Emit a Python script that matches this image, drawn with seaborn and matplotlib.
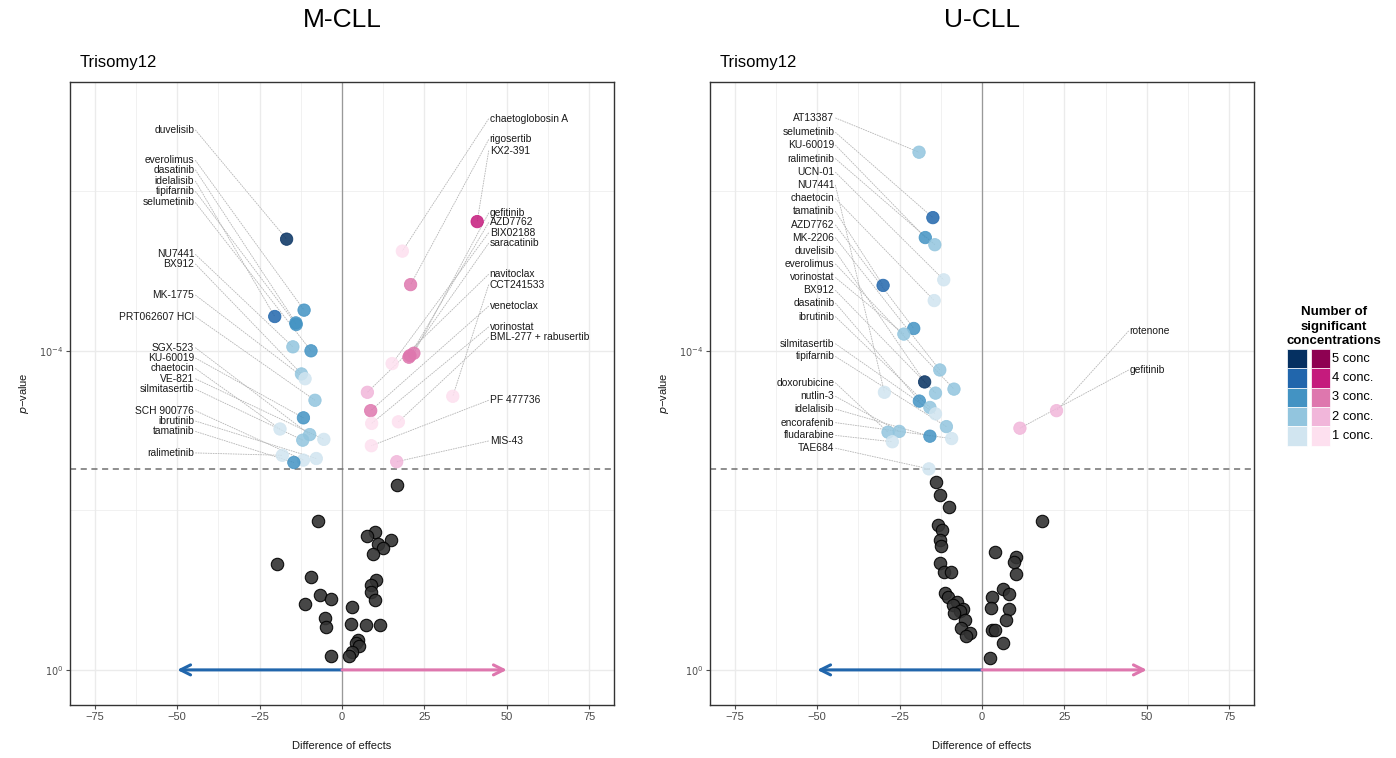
import numpy as np
import pandas as pd
import matplotlib
matplotlib.use("Agg")
import matplotlib.pyplot as plt
import seaborn as sns
from matplotlib.patches import Rectangle

# ---------------- data (y = -log10 p-value) ----------------
# M-CLL, significant drugs, negative side
mcll_neg_drugs = ["duvelisib", "everolimus", "dasatinib", "idelalisib", "tipifarnib", "selumetinib",
                  "NU7441", "BX912", "MK-1775", "PRT062607 HCl", "SGX-523", "KU-60019", "chaetocin",
                  "VE-821", "silmitasertib", "SCH 900776", "ibrutinib", "tamatinib", "ralimetinib"]
mcll_neg_x = [-16.8, -11.5, -14.0, -20.4, -13.9, -9.4, -14.9, -12.3, -11.2, -8.2, -9.8, -11.7, -18.8,
              -5.5, -11.9, -11.7, -7.8, -14.6, -18.1]
mcll_neg_y = [5.40, 4.51, 4.35, 4.43, 4.33, 4.00, 4.05, 3.71, 3.65, 3.38, 2.95, 3.16, 3.02,
              2.89, 2.88, 2.63, 2.65, 2.60, 2.69]
mcll_neg_n = [5, 3, 3, 4, 3, 3, 2, 2, 1, 2, 2, 3, 1, 1, 2, 1, 1, 3, 1]

# M-CLL, significant drugs, positive side
mcll_pos_drugs = ["chaetoglobosin A", "rigosertib", "KX2-391", "gefitinib", "AZD7762", "BIX02188",
                  "saracatinib", "navitoclax", "CCT241533", "venetoclax", "vorinostat",
                  "BML-277 + rabusertib", "PF 477736", "MIS-43"]
mcll_pos_x = [18.3, 20.8, 41.0, 21.8, 20.3, 15.2, 20.6, 7.7, 33.6, 8.7, 9.0, 17.1, 8.9, 16.6]
mcll_pos_y = [5.25, 4.83, 5.62, 3.97, 3.92, 3.84, 3.94, 3.48, 3.43, 3.25, 3.09, 3.11, 2.81, 2.61]
mcll_pos_n = [1, 3, 4, 3, 3, 1, 3, 2, 1, 3, 1, 1, 1, 2]

# M-CLL, non-significant drugs
mcll_ns_x = [16.8, -7.3, 10.0, 7.7, 14.9, 11.0, 12.3, 9.5, -19.8, -9.4, 10.4, 8.7, 8.7, -6.6, -3.4,
             10.0, -11.1, 2.9, -5.3, -4.8, 2.6, 7.3, 11.6, 4.9, 4.1, 5.2, 2.9, 2.2, -3.3]
mcll_ns_y = [2.32, 1.87, 1.73, 1.68, 1.63, 1.58, 1.53, 1.45, 1.33, 1.17, 1.13, 1.06, 0.98, 0.94, 0.89,
             0.88, 0.83, 0.79, 0.65, 0.54, 0.58, 0.56, 0.56, 0.38, 0.34, 0.30, 0.22, 0.17, 0.17]

# U-CLL, significant drugs, negative side
ucll_neg_drugs = ["AT13387", "selumetinib", "KU-60019", "ralimetinib", "UCN-01", "NU7441", "chaetocin",
                  "tamatinib", "AZD7762", "MK-2206", "duvelisib", "everolimus", "vorinostat", "BX912",
                  "dasatinib", "ibrutinib", "silmitasertib", "tipifarnib", "doxorubicine", "nutlin-3",
                  "idelalisib", "encorafenib", "fludarabine", "TAE684"]
ucll_neg_x = [-19.1, -14.9, -17.2, -14.3, -11.6, -29.6, -14.5, -30.0, -20.7, -12.8, -17.4, -8.5, -23.7,
              -14.1, -19.0, -15.8, -14.1, -10.8, -28.5, -25.1, -15.8, -9.2, -27.2, -16.1]
ucll_neg_y = [6.49, 5.67, 5.42, 5.33, 4.89, 3.48, 4.63, 4.82, 4.28, 3.76, 3.61, 3.52, 4.21,
              3.47, 3.37, 3.29, 3.21, 3.05, 2.98, 2.99, 2.93, 2.90, 2.86, 2.52]
ucll_neg_n = [2, 4, 3, 2, 1, 1, 1, 4, 3, 2, 5, 2, 2, 2, 3, 2, 1, 2, 2, 2, 3, 1, 1, 1]

# U-CLL, significant drugs, positive side
ucll_pos_drugs = ["rotenone", "gefitinib"]
ucll_pos_x = [22.6, 11.5]
ucll_pos_y = [3.25, 3.03]
ucll_pos_n = [2, 2]

# U-CLL, non-significant drugs
ucll_ns_x = [-14.0, -12.7, -10.0, 18.2, -13.4, -12.0, -12.7, -12.5, 3.9, 10.3, 9.7, -12.8, -11.5, -9.3,
             10.3, 6.4, -11.2, 8.1, -10.2, 3.1, -7.5, -8.7, -5.9, 2.8, 8.2, -6.8, -8.4, -5.2, 7.4,
             -6.4, 2.9, 3.8, -3.5, -4.8, 6.3, 2.3]
ucll_ns_y = [2.36, 2.19, 2.04, 1.87, 1.82, 1.75, 1.63, 1.55, 1.48, 1.42, 1.35, 1.34, 1.23, 1.23,
             1.20, 1.02, 0.97, 0.95, 0.91, 0.91, 0.85, 0.81, 0.76, 0.77, 0.76, 0.74, 0.71, 0.62, 0.62,
             0.52, 0.50, 0.50, 0.46, 0.43, 0.34, 0.15]

threshold_y = 2.52
conc_levels = [5, 4, 3, 2, 1]
conc_labels = ["5 conc", "4 conc.", "3 conc.", "2 conc.", "1 conc."]
blues = ["#053061", "#2166AC", "#4393C3", "#92C5DE", "#D1E5F0"]
pinks = ["#8E0152", "#C51B7D", "#DE77AE", "#F1B6DA", "#FDE0EF"]

# ---------------- layout (label positions) ----------------
mcll_neg_label_y = [6.77, 6.39, 6.27, 6.13, 6.00, 5.86, 5.21, 5.09, 4.70, 4.43, 4.04, 3.91, 3.78,
                    3.65, 3.52, 3.25, 3.12, 2.99, 2.72]
mcll_pos_label_y = [6.91, 6.65, 6.51, 5.73, 5.61, 5.48, 5.35, 4.96, 4.83, 4.56, 4.30, 4.17, 3.38, 2.87]
ucll_neg_label_y = [6.92, 6.74, 6.58, 6.41, 6.24, 6.08, 5.91, 5.75, 5.58, 5.42, 5.25, 5.09, 4.92,
                    4.76, 4.60, 4.43, 4.09, 3.93, 3.60, 3.43, 3.27, 3.10, 2.94, 2.78]
ucll_pos_label_y = [4.25, 3.76]

sns.set_theme(style="white")
plt.rcParams["font.family"] = ["Liberation Sans", "DejaVu Sans"]

W, H = 1396, 758
fig = plt.figure(figsize=(W / 100, H / 100), dpi=100)


def fx(px):
    return px / W


def fy(py):
    return 1 - py / H


ax_l = fig.add_axes([fx(70), fy(705), (614 - 70) / W, (705 - 82) / H])
ax_r = fig.add_axes([fx(710), fy(705), (1254 - 710) / W, (705 - 82) / H])

blue_pal = {c: b for c, b in zip(conc_levels, blues)}
pink_pal = {c: p for c, p in zip(conc_levels, pinks)}


def draw_panel(ax, neg, pos, ns, neg_lab_y, pos_lab_y):
    ax.set_xlim(-82.5, 82.5)
    ax.set_ylim(-0.44, 7.37)
    # grid
    for gx in np.arange(-75, 76, 25):
        ax.axvline(gx, color="#ebebeb", lw=1.0, zorder=0)
    for gx in np.arange(-62.5, 63, 25):
        ax.axvline(gx, color="#ebebeb", lw=0.5, zorder=0)
    for gy in [0, 4]:
        ax.axhline(gy, color="#ebebeb", lw=1.0, zorder=0)
    for gy in [2, 6]:
        ax.axhline(gy, color="#ebebeb", lw=0.5, zorder=0)
    ax.axvline(0, color="#999999", lw=0.9, zorder=1)
    ax.axhline(threshold_y, color="#707070", lw=1.1, ls=(0, (4, 3)), zorder=1)

    # arrows
    for end, col in [(-50, "#2166AC"), (50, "#DE77AE")]:
        ax.annotate("", xy=(end, 0), xytext=(0, 0),
                    arrowprops=dict(arrowstyle="->,head_length=0.6,head_width=0.3", color=col,
                                    lw=2.2, shrinkA=0, shrinkB=0),
                    zorder=2)

    # leader lines + labels
    for (drugs, xs, ys, _n), laby, side in [(neg, neg_lab_y, -1), (pos, pos_lab_y, 1)]:
        for d, x, y, ly in zip(drugs, xs, ys, laby):
            ax.plot([side * 44.5, x], [ly, y], color="#b5b5b5", lw=0.6, ls=(0, (2, 1)), zorder=2)
            ax.text(side * 44.8, ly, d, ha="right" if side < 0 else "left", va="center",
                    fontsize=7.4, color="#1a1a1a", zorder=5)

    # non-significant points
    df_ns = pd.DataFrame({"x": ns[0], "y": ns[1]})
    sns.scatterplot(data=df_ns, x="x", y="y", ax=ax, color="#333333", edgecolor="black",
                    linewidth=0.8, s=80, alpha=0.9, zorder=3, legend=False)
    # significant points
    df_neg = pd.DataFrame({"x": neg[1], "y": neg[2], "n": neg[3]})
    sns.scatterplot(data=df_neg, x="x", y="y", hue="n", palette=blue_pal, ax=ax, s=80, alpha=0.85,
                    edgecolor="face", linewidth=0.6, zorder=4, legend=False)
    df_pos = pd.DataFrame({"x": pos[1], "y": pos[2], "n": pos[3]})
    sns.scatterplot(data=df_pos, x="x", y="y", hue="n", palette=pink_pal, ax=ax, s=80, alpha=0.85,
                    edgecolor="face", linewidth=0.6, zorder=4, legend=False)

    ax.set_xticks(np.arange(-75, 76, 25))
    ax.set_xticklabels([str(v).replace("-", "\u2212") for v in np.arange(-75, 76, 25)])
    ax.set_yticks([0, 4])
    ax.set_yticklabels([r"$10^{0}$", r"$10^{-4}$"])
    ax.tick_params(axis="x", labelsize=8, colors="#4d4d4d", length=3, width=0.8, pad=2)
    ax.tick_params(axis="y", labelsize=7, colors="#4d4d4d", length=3, width=0.8, pad=2)
    ax.tick_params(left=True, bottom=True)
    ax.set_xlabel("Difference of effects", fontsize=8, color="#1a1a1a", labelpad=14)
    ax.set_ylabel(r"$\it{p}$" + "\u2212value", fontsize=8, color="#1a1a1a", labelpad=6)
    for sp in ax.spines.values():
        sp.set_color("#333333")
        sp.set_linewidth(1.0)
    ax.grid(False)


draw_panel(ax_l,
           (mcll_neg_drugs, mcll_neg_x, mcll_neg_y, mcll_neg_n),
           (mcll_pos_drugs, mcll_pos_x, mcll_pos_y, mcll_pos_n),
           (mcll_ns_x, mcll_ns_y), mcll_neg_label_y, mcll_pos_label_y)
draw_panel(ax_r,
           (ucll_neg_drugs, ucll_neg_x, ucll_neg_y, ucll_neg_n),
           (ucll_pos_drugs, ucll_pos_x, ucll_pos_y, ucll_pos_n),
           (ucll_ns_x, ucll_ns_y), ucll_neg_label_y, ucll_pos_label_y)

# titles
fig.text(fx(342), fy(20), "M-CLL", ha="center", va="center", fontsize=19, color="black")
fig.text(fx(982), fy(20), "U-CLL", ha="center", va="center", fontsize=19, color="black")
fig.text(fx(80), fy(62), "Trisomy12", ha="left", va="center", fontsize=12, color="black")
fig.text(fx(720), fy(62), "Trisomy12", ha="left", va="center", fontsize=12, color="black")

# legend
for i, t in enumerate(["Number of", "significant", "concentrations"]):
    fig.text(fx(1334), fy(312 + i * 14.5), t, ha="center", va="center", fontsize=9.5,
             fontweight="bold", color="black")
row_top = 349
row_h = 19.3
for i in range(5):
    y0 = row_top + i * row_h
    fig.patches.append(Rectangle((fx(1287), fy(y0 + row_h)), 19.5 / W, row_h / H,
                                 transform=fig.transFigure, facecolor=blues[i], edgecolor="white",
                                 lw=0.5))
    fig.patches.append(Rectangle((fx(1310.5), fy(y0 + row_h)), 19.5 / W, row_h / H,
                                 transform=fig.transFigure, facecolor=pinks[i], edgecolor="white",
                                 lw=0.5))
    fig.text(fx(1332), fy(y0 + row_h / 2), conc_labels[i], ha="left", va="center", fontsize=9.3,
             color="black")

fig.savefig("out.png", dpi=100)
